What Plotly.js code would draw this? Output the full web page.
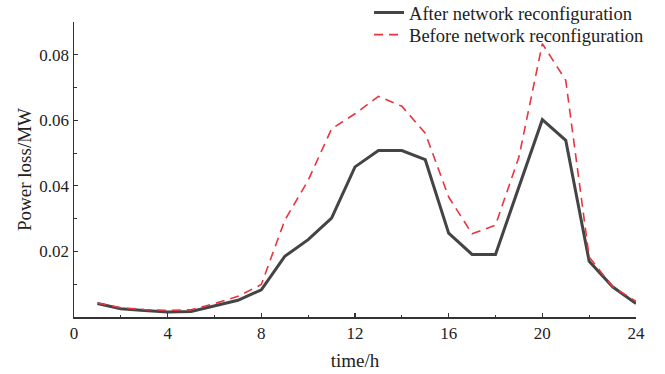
<!DOCTYPE html>
<html>
<head>
<meta charset="utf-8">
<script src="https://cdn.plot.ly/plotly-3.0.1.min.js"></script>
<style>html,body{margin:0;padding:0;background:#fff;}#chart{width:665px;height:374px;}</style>
</head>
<body>
<div id="chart"></div>
<script>
const hours = [1,2,3,4,5,6,7,8,9,10,11,12,13,14,15,16,17,18,19,20,21,22,23,24];
const afterLoss = [0.0041,0.0025,0.0020,0.0015,0.0017,0.0035,0.0051,0.0083,0.0185,0.0236,0.0302,0.0458,0.0508,0.0508,0.0480,0.0256,0.0191,0.0191,0.0397,0.0602,0.0539,0.0170,0.0092,0.0041];
const beforeLoss = [0.0043,0.0028,0.0023,0.0020,0.0022,0.0041,0.0063,0.0099,0.0295,0.0417,0.0574,0.0620,0.0673,0.0643,0.0561,0.0366,0.0254,0.0280,0.0488,0.0834,0.0722,0.0183,0.0092,0.0048];
const seriesNames = ["After network reconfiguration","Before network reconfiguration"];
const xTicks = [0,4,8,12,16,20,24];
const yTicks = [0.02,0.04,0.06,0.08];
const yTickLabels = ["0.02","0.04","0.06","0.08"];

const font = "Liberation Serif, Times New Roman, serif";
const traces = [
  {x: hours, y: afterLoss, name: seriesNames[0], type: "scatter", mode: "lines", legend: "legend",
   line: {color: "#444444", width: 3}},
  {x: hours, y: beforeLoss, name: seriesNames[1], type: "scatter", mode: "lines", legend: "legend2",
   line: {color: "#e8353f", width: 1.6, dash: "9px,6px"}}
];
const legendBase = {xanchor: "left", yanchor: "top", bgcolor: "rgba(0,0,0,0)",
  font: {family: font, size: 18.5, color: "#222222"}, itemwidth: 30};
const layout = {
  width: 665, height: 374,
  margin: {l: 74, r: 29, t: 22, b: 57, autoexpand: false},
  paper_bgcolor: "#ffffff", plot_bgcolor: "#ffffff",
  font: {family: font, color: "#222222", size: 14},
  showlegend: true,
  legend: Object.assign({x: 0.525, y: 1.095}, legendBase),
  legend2: Object.assign({x: 0.525, y: 1.02}, legendBase),
  xaxis: {range: [0, 24], tickmode: "array", tickvals: xTicks, ticktext: xTicks.map(String),
    showgrid: false, zeroline: false, showline: true, linecolor: "#333333", linewidth: 1.5,
    ticks: "inside", ticklen: 4, tickwidth: 1.2, tickcolor: "#333333",
    minor: {tickvals: [2,6,10,14,18,22], ticks: "inside", ticklen: 2.5, tickwidth: 1, tickcolor: "#333333"},
    tickfont: {family: font, size: 17, color: "#222222"},
    title: {text: "time/h", font: {family: font, size: 19, color: "#222222"}, standoff: 12}},
  yaxis: {range: [0, 0.09], tickmode: "array", tickvals: yTicks, ticktext: yTickLabels,
    showgrid: false, zeroline: false, showline: true, linecolor: "#333333", linewidth: 1.5,
    ticks: "inside", ticklen: 4, tickwidth: 1.2, tickcolor: "#333333",
    minor: {tickvals: [0.01,0.03,0.05,0.07], ticks: "inside", ticklen: 2.5, tickwidth: 1, tickcolor: "#333333"},
    tickfont: {family: font, size: 17, color: "#222222"},
    title: {text: "Power loss/MW", font: {family: font, size: 19, color: "#222222"}, standoff: 2}}
};
Plotly.newPlot("chart", traces, layout, {displayModeBar: false, staticPlot: true});
</script>
</body>
</html>
